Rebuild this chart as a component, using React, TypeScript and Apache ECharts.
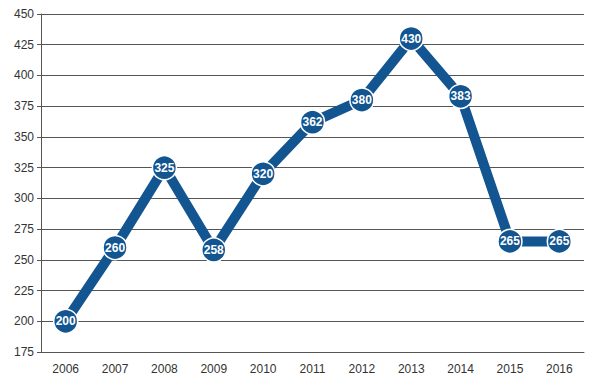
import React, { useEffect, useRef } from "react";
import * as echarts from "echarts";

const years = ["2006", "2007", "2008", "2009", "2010", "2011", "2012", "2013", "2014", "2015", "2016"];
const values = [200, 260, 325, 258, 320, 362, 380, 430, 383, 265, 265];

export default function App() {
  const ref = useRef<HTMLDivElement>(null);
  useEffect(() => {
    const chart = echarts.init(ref.current!, null, { renderer: "svg" });
    chart.setOption({
      animation: false,
      grid: { left: 41, right: 10, top: 14, bottom: 32 },
      xAxis: {
        type: "category",
        data: years,
        axisLine: { lineStyle: { color: "#555", width: 1 } },
        axisTick: { show: false },
        axisLabel: { color: "#333", fontFamily: "Liberation Sans, Arial, sans-serif", fontSize: 12, margin: 11 },
      },
      yAxis: {
        type: "value",
        min: 175,
        max: 450,
        interval: 25,
        axisLine: { show: true, lineStyle: { color: "#555", width: 1 } },
        axisTick: { show: true, length: 4, lineStyle: { color: "#555" } },
        splitLine: { lineStyle: { color: "#555", width: 1 } },
        axisLabel: { color: "#333", fontFamily: "Liberation Sans, Arial, sans-serif", fontSize: 12, margin: 7 },
      },
      series: [
        {
          type: "line",
          data: values,
          lineStyle: { color: "#135591", width: 10 },
          itemStyle: { color: "#135591", borderColor: "#fff", borderWidth: 1.5 },
          symbol: "circle",
          symbolSize: 24,
          label: {
            show: true,
            position: "inside",
            color: "#fff",
            fontWeight: "bold",
            fontSize: 12,
            fontFamily: "Liberation Sans, Arial, sans-serif",
          },
        },
      ],
    });
    return () => chart.dispose();
  }, []);
  return <div ref={ref} style={{ width: 594, height: 384, position: "absolute", left: 0, top: 0 }} />;
}
